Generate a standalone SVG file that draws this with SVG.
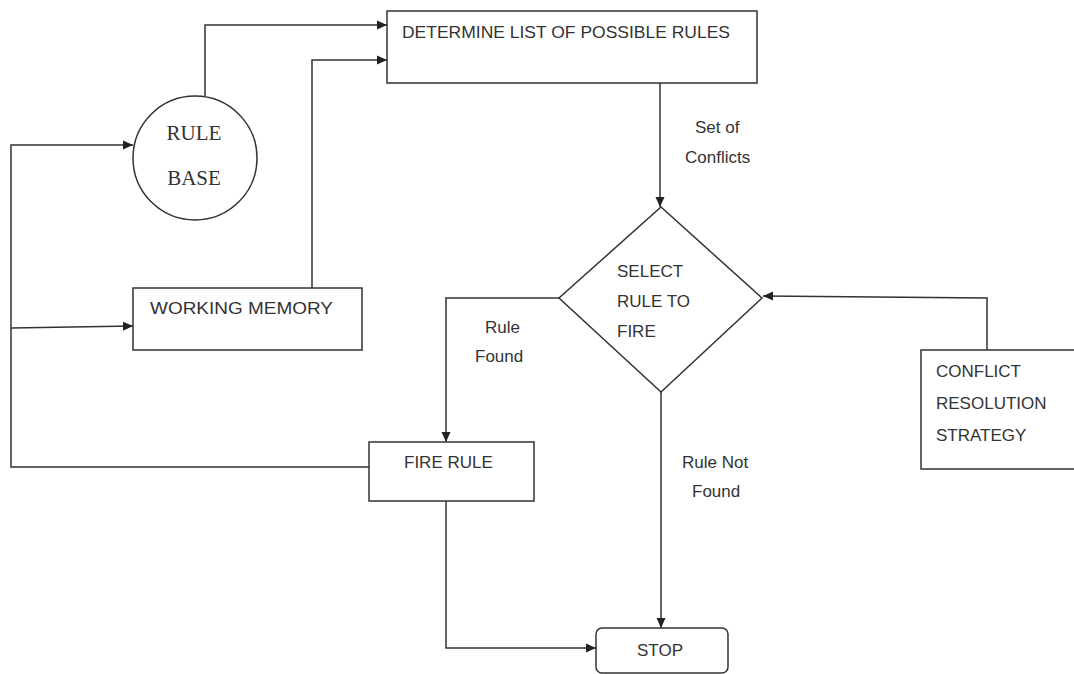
<svg xmlns="http://www.w3.org/2000/svg" width="1074" height="674" viewBox="0 0 1074 674">
<defs>
<marker id="arr" viewBox="0 0 10 10" refX="10" refY="5" markerWidth="10" markerHeight="10" markerUnits="userSpaceOnUse" orient="auto">
<path d="M0,0.5 L10,5 L0,9.5 z" fill="#222"/>
</marker>
<style>
.shape{fill:#fff;stroke:#333;stroke-width:1.5}
.t{font-family:"Liberation Sans",Arial,sans-serif;font-size:17px;fill:#333}
.s{font-family:"Liberation Serif","Times New Roman",serif;font-size:21px;fill:#333}
.c{fill:none;stroke:#333;stroke-width:1.5}
</style>
</defs>
<rect width="1074" height="674" fill="#fff"/>
<g id="connectors">
<path class="c" d="M205,96 V25 H387" marker-end="url(#arr)"/>
<path class="c" d="M312,288 V60 H387" marker-end="url(#arr)"/>
<path class="c" d="M370,467 H11 V145 H133" marker-end="url(#arr)"/>
<path class="c" d="M11,328 L133,326" marker-end="url(#arr)"/>
<path class="c" d="M660,83 V207" marker-end="url(#arr)"/>
<path class="c" d="M559,298 H446 V442" marker-end="url(#arr)"/>
<path class="c" d="M661,392 V628" marker-end="url(#arr)"/>
<path class="c" d="M446,501 V648 H596" marker-end="url(#arr)"/>
<path class="c" d="M987,350 V298 L763,296" marker-end="url(#arr)"/>
</g>
<g id="determine">
<rect class="shape" x="387" y="11" width="370" height="72"/>
<text class="t" x="402" y="38" textLength="328" lengthAdjust="spacingAndGlyphs">DETERMINE LIST OF POSSIBLE RULES</text>
</g>
<g id="rulebase">
<circle class="shape" cx="195" cy="158" r="62"/>
<text class="s" x="194" y="140" text-anchor="middle">RULE</text>
<text class="s" x="194" y="185" text-anchor="middle">BASE</text>
</g>
<g id="working-memory">
<rect class="shape" x="133" y="288" width="229" height="62"/>
<text class="t" x="150" y="314" textLength="183" lengthAdjust="spacingAndGlyphs">WORKING MEMORY</text>
</g>
<g id="select">
<polygon class="shape" points="661,207 762,298 661,392 559,298"/>
<text class="t" x="617" y="277">SELECT</text>
<text class="t" x="617" y="307">RULE TO</text>
<text class="t" x="617" y="337">FIRE</text>
</g>
<g id="fire-rule">
<rect class="shape" x="369" y="442" width="165" height="59"/>
<text class="t" x="404" y="468">FIRE RULE</text>
</g>
<g id="stop">
<rect class="shape" x="596" y="628" width="132" height="45" rx="6"/>
<text class="t" x="637" y="656">STOP</text>
</g>
<g id="conflict-resolution">
<rect class="shape" x="921" y="350" width="160" height="119"/>
<text class="t" x="936" y="377">CONFLICT</text>
<text class="t" x="936" y="409">RESOLUTION</text>
<text class="t" x="936" y="441">STRATEGY</text>
</g>
<g id="labels">
<text class="t" x="695" y="133">Set of</text>
<text class="t" x="685" y="163">Conflicts</text>
<text class="t" x="485" y="333">Rule</text>
<text class="t" x="475" y="362">Found</text>
<text class="t" x="682" y="468">Rule Not</text>
<text class="t" x="692" y="497">Found</text>
</g>
</svg>
